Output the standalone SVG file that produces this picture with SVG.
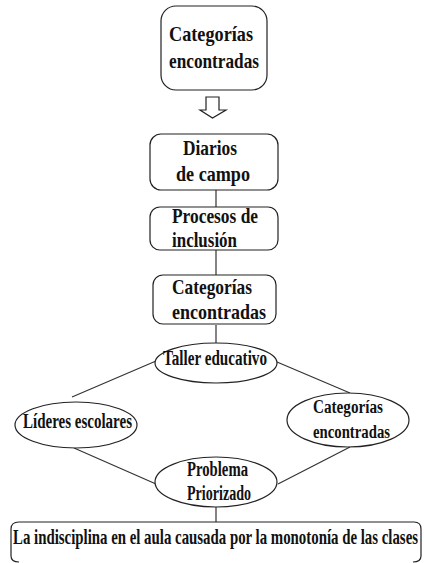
<svg xmlns="http://www.w3.org/2000/svg" width="424" height="563" viewBox="0 0 424 563">
<style>
.n{fill:#fff;stroke:#222;stroke-width:1.2}
.c{fill:none;stroke:#333;stroke-width:1.2}
text{font-family:"Liberation Serif","Times New Roman",serif;font-weight:bold;fill:#111;font-size:21px}
.m{font-size:20px}
.s{font-size:18px}
.b{font-size:22px}
</style>
<rect width="424" height="563" fill="#fff"/>
<g id="connectors">
<path class="c" d="M216 190V207M216 250V275M216 325V343"/>
<path class="c" d="M156 361L72 397M277 362L350 393M74 448L156 484M350 447L278 484M216 507V522"/>
</g>
<g id="n1">
<rect class="n" x="161" y="6" width="106" height="84" rx="15"/>
<text x="169" y="41" textLength="84" lengthAdjust="spacingAndGlyphs">Categorías</text>
<text x="169" y="68" textLength="90" lengthAdjust="spacingAndGlyphs">encontradas</text>
</g>
<g id="arrow">
<path class="n" d="M206 97H219V110H226L212.5 118L200 110H206Z"/>
</g>
<g id="n2">
<rect class="n" x="150" y="134" width="128" height="56" rx="11"/>
<text x="183" y="155" textLength="54" lengthAdjust="spacingAndGlyphs">Diarios</text>
<text x="176" y="181" textLength="74" lengthAdjust="spacingAndGlyphs">de campo</text>
</g>
<g id="n3">
<rect class="n" x="150" y="207" width="128" height="43" rx="10"/>
<text x="172" y="223" textLength="86" lengthAdjust="spacingAndGlyphs">Procesos de</text>
<text x="172" y="247" textLength="65" lengthAdjust="spacingAndGlyphs">inclusión</text>
</g>
<g id="n4">
<rect class="n" x="153" y="275" width="123" height="49" rx="10"/>
<text x="172" y="294" textLength="80" lengthAdjust="spacingAndGlyphs">Categorías</text>
<text x="172" y="319" textLength="94" lengthAdjust="spacingAndGlyphs">encontradas</text>
</g>
<g id="n5">
<ellipse class="n" cx="216" cy="363" rx="61" ry="20"/>
<text class="m" x="163" y="365" textLength="104" lengthAdjust="spacingAndGlyphs">Taller educativo</text>
</g>
<g id="n6">
<ellipse class="n" cx="76" cy="425" rx="61" ry="23"/>
<text class="m" x="23" y="428" textLength="109" lengthAdjust="spacingAndGlyphs">Líderes escolares</text>
</g>
<g id="n7">
<ellipse class="n" cx="348" cy="420" rx="61" ry="27"/>
<text class="s" x="313" y="413" textLength="70" lengthAdjust="spacingAndGlyphs">Categorías</text>
<text class="s" x="313" y="438" textLength="77" lengthAdjust="spacingAndGlyphs">encontradas</text>
</g>
<g id="n8">
<ellipse class="n" cx="216" cy="482" rx="61" ry="25"/>
<text class="m" x="187" y="476" textLength="61" lengthAdjust="spacingAndGlyphs">Problema</text>
<text class="m" x="187" y="500" textLength="64" lengthAdjust="spacingAndGlyphs">Priorizado</text>
</g>
<g id="n9">
<path class="n" d="M19 562Q11 562 11 556V529Q11 522 19 522H414Q421 522 421 529V556Q421 562 413 562"/>
<text class="b" x="13" y="544" textLength="405" lengthAdjust="spacingAndGlyphs">La indisciplina en el aula causada por la monotonía de las clases</text>
</g>
</svg>
